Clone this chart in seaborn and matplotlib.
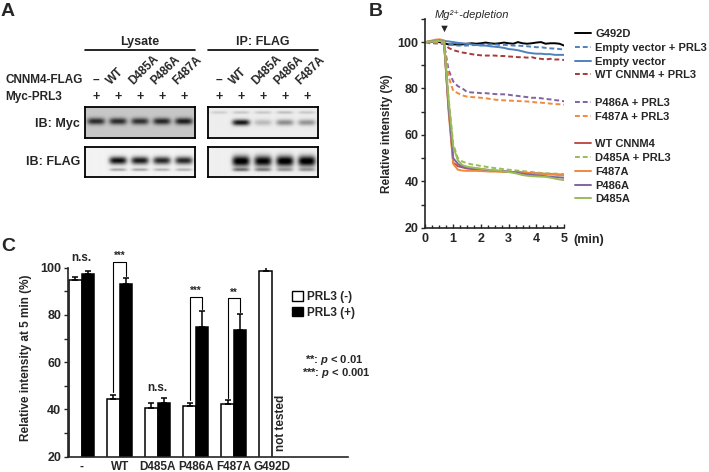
import numpy as np
import pandas as pd
import matplotlib.pyplot as plt
import seaborn as sns
from matplotlib.lines import Line2D
from matplotlib.patches import Patch

W, H = 709, 472

# ---- panel A: lanes and band strengths read off the blots (0 = no band)
lanes = ['–', 'WT', 'D485A', 'P486A', 'F487A']
myc_lysate = [0.62, 0.62, 0.60, 0.64, 0.68]
myc_ip = [0.0, 0.85, 0.20, 0.38, 0.35]
myc_ip_top = [0.12, 0.15, 0.15, 0.18, 0.15]
flag_lysate = [0.0, 0.90, 0.85, 0.80, 0.80]
flag_lysate_low = [0.0, 0.30, 0.30, 0.25, 0.25]
flag_ip = [0.0, 1.0, 0.95, 1.0, 1.0]
flag_ip_low = [0.0, 0.45, 0.40, 0.30, 0.30]

# ---- panel B: relative intensity (%) every 10 s
minutes = [round(i / 6, 3) for i in range(31)]
g492d = [100, 100, 100.5, 100, 99.5, 99, 99, 99, 99, 99.3, 99.5, 99.3, 99.5, 99.8, 99.5, 99.3,
         99.5, 99.8, 99.5, 99.3, 100, 99.5, 99.3, 99.5, 99.8, 100, 99.3, 99.5, 99.5, 99.3, 98.5]
ev_prl3 = [100, 99.5, 99.5, 99.5, 99.3, 99, 98.8, 98.5, 98.5, 98.5, 98.7, 98.7, 98.8, 99, 99, 99,
           98.8, 98.8, 98.7, 98.5, 98.5, 98.3, 98.2, 98, 97.8, 97.8, 97.5, 97.3, 97.2, 97, 96.8]
ev = [100, 100.3, 100.5, 100.5, 100.5, 100.3, 100, 99.7, 99.5, 99.3, 99, 98.8, 98.5, 98.5, 98.2, 98,
      97.8, 97.5, 97, 96.8, 96.5, 96, 95.5, 95.2, 95, 95, 94.8, 94.8, 94.5, 94.5, 94.5]
wt_prl3 = [100, 100, 99.5, 99.5, 99.3, 97.5, 96.5, 96, 95.5, 95.2, 94.8, 94.5, 94.3, 94.2, 94.2, 94.2,
           94, 94, 93.8, 93.7, 93.5, 93.5, 93.3, 93.5, 93, 92.8, 92.5, 92.8, 92.5, 92.5, 92.3]
p486a_prl3 = [100, 100, 99.8, 99.8, 99.5, 88, 83, 81, 80, 78.5, 78.3, 78.2, 78, 78, 77.8, 77.6,
              77.5, 77.5, 77.3, 77, 76.8, 76.5, 76.3, 76, 76, 75.8, 75.5, 75.3, 75, 74.8, 74.5]
f487a_prl3 = [100, 100, 99.8, 99.8, 99.5, 85, 79, 78, 77, 76.5, 76.3, 76.2, 76, 75.8, 75.5, 75.2,
              75, 74.9, 74.8, 74.7, 74.6, 74.5, 74.4, 74.2, 74, 73.9, 73.7, 73.5, 73.3, 73.2, 73]
wt = [100, 100.3, 100.5, 100.5, 100, 72, 48, 46.5, 46, 45.5, 45.3, 45, 45, 44.8, 44.7, 44.5,
      44.5, 44.3, 44.2, 44, 44, 43.8, 43.7, 43.5, 43.4, 43.3, 43.2, 43.1, 43, 42.9, 42.8]
d485a_prl3 = [100, 100, 100.3, 100.3, 100, 76, 56, 50, 48.5, 47.8, 47.3, 47, 46.6, 46.3, 46, 45.7,
              45.5, 45.2, 45, 44.8, 44.6, 44.4, 44.2, 44, 43.8, 43.6, 43.5, 43.4, 43.3, 43.2, 43.1]
f487a = [100, 100.5, 101, 101.2, 100.8, 70, 47.5, 45, 44.6, 44.5, 44.5, 44.5, 44.4, 44.3, 44.2, 44.2,
         44.1, 44, 44, 43.9, 43.8, 43.7, 43.6, 43.5, 43.4, 43.3, 43.2, 43, 42.9, 42.7, 42.5]
p486a = [100, 100.2, 100.5, 100.7, 100.3, 72, 50, 47.5, 46.3, 45.8, 45.6, 45.5, 45.3, 45, 44.8, 44.6,
         44.5, 44.3, 44.1, 43.9, 43.6, 43.3, 43, 42.8, 42.6, 42.4, 42.2, 42, 41.8, 41.7, 41.5]
d485a = [100, 100.2, 100.4, 100.5, 100.2, 75, 55, 49, 47, 46.3, 46, 45.7, 45.4, 45.1, 44.9, 44.7,
         44.5, 44.2, 44, 43.7, 43.2, 42.7, 42.4, 42.2, 42.1, 42, 41.9, 41.6, 41.2, 40.8, 40.5]

# label, values, colour, dashed
series = [
    ('G492D', g492d, '#000000', False),
    ('Empty vector + PRL3', ev_prl3, '#4F81BD', True),
    ('Empty vector', ev, '#4F81BD', False),
    ('WT CNNM4 + PRL3', wt_prl3, '#A83A3A', True),
    ('P486A + PRL3', p486a_prl3, '#8064A2', True),
    ('F487A + PRL3', f487a_prl3, '#F08A3C', True),
    ('WT CNNM4', wt, '#C0504D', False),
    ('D485A + PRL3', d485a_prl3, '#9BBB59', True),
    ('F487A', f487a, '#F08A3C', False),
    ('P486A', p486a, '#8064A2', False),
    ('D485A', d485a, '#9BBB59', False),
]

# ---- panel C: intensity at 5 min (mean, s.e.)
groups = ['-', 'WT', 'D485A', 'P486A', 'F487A', 'G492D']
prl3_neg = [94.8, 44.5, 40.5, 41.6, 42.2, 98.7]
prl3_neg_err = [1.1, 1.7, 2.2, 1.3, 1.7, 1.8]
prl3_pos = [97.4, 92.9, 42.6, 74.8, 73.6, None]
prl3_pos_err = [1.1, 2.6, 2.2, 6.8, 6.7, None]


def px(x, y):
    return x / W, 1 - y / H


def blot_image(main, main_y, main_sy, extra=None, extra_y=0.75, extra_sy=0.05, bg=0.93):
    xs = np.linspace(-0.5, 4.5, 250)
    ys = np.linspace(0, 1, 60)
    X, Y = np.meshgrid(xs, ys)
    img = np.full(X.shape, bg)
    for i, a in enumerate(main):
        img -= a * np.exp(-(np.abs(X - i) / 0.4) ** 4) * np.exp(-((Y - main_y) / main_sy) ** 2)
    if extra is not None:
        for i, a in enumerate(extra):
            img -= a * np.exp(-(np.abs(X - i) / 0.38) ** 4) * np.exp(-((Y - extra_y) / extra_sy) ** 2)
    return np.clip(img, 0, 1)


def draw_blot(box, img):
    ax = fig.add_axes(box)
    ax.imshow(img, cmap='gray', vmin=0, vmax=1, aspect='auto', extent=(-0.5, 4.5, 1, 0))
    ax.set_xticks([])
    ax.set_yticks([])
    for s in ax.spines.values():
        s.set_visible(True)
        s.set_linewidth(1.3)
        s.set_color('black')
    return ax


sns.set_theme(style='ticks')
plt.rcParams['font.family'] = ['Liberation Sans', 'DejaVu Sans']
plt.rcParams['font.weight'] = 'bold'
plt.rcParams['axes.labelweight'] = 'bold'
plt.rcParams['mathtext.fontset'] = 'custom'
plt.rcParams['mathtext.it'] = 'Liberation Sans:italic:bold'
plt.rcParams['mathtext.rm'] = 'Liberation Sans:bold'

fig = plt.figure(figsize=(W / 100, H / 100), dpi=100)

# ================= panel A =================
fig.text(*px(1, 3), 'A', fontsize=14, fontweight='bold', va='top', ha='left')
blot_w, lane_w = 110, 22
for left, title in [(85, 'Lysate'), (208, 'IP: FLAG')]:
    fig.text(*px(left + blot_w / 2, 42), title, fontsize=9, ha='center', va='center')
    fig.add_artist(Line2D([left / W, (left + blot_w) / W], [1 - 50 / H] * 2,
                          transform=fig.transFigure, color='black', lw=1.2))
    for i, name in enumerate(lanes):
        cx = left + (i + 0.5) * lane_w
        fig.text(*px(cx, 97), '+', fontsize=9, ha='center', va='center')
        if i == 0:
            fig.text(*px(cx, 80), name, fontsize=8.5, ha='center', va='center')
        else:
            fig.text(*px(cx - 5, 87), name, fontsize=8.5, rotation=45,
                     rotation_mode='anchor', ha='left', va='bottom')
fig.text(*px(5, 80), 'CNNM4-FLAG', fontsize=8.5, ha='left', va='center')
fig.text(*px(5, 97), 'Myc-PRL3', fontsize=8.5, ha='left', va='center')
fig.text(*px(80, 124), 'IB: Myc', fontsize=9, ha='right', va='center')
fig.text(*px(80, 162), 'IB: FLAG', fontsize=9, ha='right', va='center')

myc_h, flag_h = 31, 30
draw_blot([85 / W, 1 - 138 / H, blot_w / W, myc_h / H],
          blot_image(myc_lysate, 0.46, 0.11, bg=0.78))
draw_blot([208 / W, 1 - 138 / H, blot_w / W, myc_h / H],
          blot_image(myc_ip, 0.5, 0.1, myc_ip_top, 0.17, 0.05, bg=0.93))
draw_blot([85 / W, 1 - 177 / H, blot_w / W, flag_h / H],
          blot_image(flag_lysate, 0.45, 0.13, flag_lysate_low, 0.76, 0.05, bg=0.95))
draw_blot([208 / W, 1 - 177 / H, blot_w / W, flag_h / H],
          blot_image(flag_ip, 0.47, 0.18, flag_ip_low, 0.76, 0.06, bg=0.94))

# ================= panel B =================
fig.text(*px(369, 3), 'B', fontsize=14, fontweight='bold', va='top', ha='left')
axb = fig.add_axes([425.5 / W, 1 - 227.7 / H, 138.6 / W, 208.8 / H])
long = pd.DataFrame({
    'min': np.tile(minutes, len(series)),
    'value': np.concatenate([s[1] for s in series]),
    'series': np.repeat([s[0] for s in series], len(minutes)),
})
names = [s[0] for s in series]
palette = {s[0]: s[2] for s in series}
dashes = {s[0]: (2.5, 1.5) if s[3] else '' for s in series}
sns.lineplot(data=long, x='min', y='value', hue='series', style='series',
             hue_order=names, style_order=names, palette=palette, dashes=dashes,
             lw=1.4, legend=False, ax=axb)
axb.set_xlim(0, 5)
axb.set_ylim(20, 110)
axb.set_xticks(range(6))
axb.set_xticks(np.arange(0, 5.01, 0.25), minor=True)
axb.set_yticks([20, 40, 60, 80, 100])
axb.set_yticks([30, 50, 70, 90, 110], minor=True)
axb.tick_params(axis='x', which='both', direction='in', labelsize=9, width=1)
axb.tick_params(axis='x', which='major', length=3, pad=4)
axb.tick_params(axis='x', which='minor', length=2)
axb.tick_params(axis='y', which='both', direction='out', labelsize=9, width=1, pad=2)
axb.tick_params(axis='y', which='major', length=3)
axb.tick_params(axis='y', which='minor', length=3)
sns.despine(ax=axb)
for s in axb.spines.values():
    s.set_linewidth(1.2)
axb.set_xlabel('')
axb.set_ylabel('Relative intensity (%)', fontsize=8.5)
axb.yaxis.set_label_coords(-0.234, 0.45)
fig.text(*px(573, 240), '(min)', fontsize=9, ha='left', va='center')
axb.text(0.69, 105.5, '▼', fontsize=8, ha='center', va='center', clip_on=False)
fig.text(*px(472, 15), 'Mg²⁺-depletion', fontsize=8, fontstyle='italic',
         fontweight='normal', ha='center', va='center')

handles, labels = [], []
for i, (name, _, color, dashed) in enumerate(series):
    if name in ('P486A + PRL3', 'WT CNNM4'):
        handles.append(Line2D([], [], color='none'))
        labels.append(' ')
    h = Line2D([], [], color=color, lw=1.4)
    if dashed:
        h.set_dashes((2.5, 1.5))
    handles.append(h)
    labels.append(name)
fig.legend(handles, labels, loc='upper left', bbox_to_anchor=px(575, 29),
           frameon=False, fontsize=8, handlelength=1.4, handletextpad=0.4,
           labelspacing=0.34, borderpad=0, borderaxespad=0)

# ================= panel C =================
fig.text(*px(1, 238), 'C', fontsize=14, fontweight='bold', va='top', ha='left')
axc = fig.add_axes([68.3 / W, 1 - 456.7 / H, 279.8 / W, 189 / H])
bars = pd.DataFrame({
    'group': groups * 2,
    'prl3': ['PRL3 (-)'] * len(groups) + ['PRL3 (+)'] * len(groups),
    'value': prl3_neg + prl3_pos,
}).dropna()
sns.barplot(data=bars, x='group', y='value', hue='prl3', order=groups,
            hue_order=['PRL3 (-)', 'PRL3 (+)'],
            palette={'PRL3 (-)': 'white', 'PRL3 (+)': 'black'},
            width=0.66, saturation=1, edgecolor='black', linewidth=1.1,
            errorbar=None, legend=False, ax=axc)
neg_bars, pos_bars = list(axc.containers[0]), list(axc.containers[1])
for bar_list, vals, errs in [(neg_bars, prl3_neg, prl3_neg_err),
                             (pos_bars, prl3_pos, prl3_pos_err)]:
    pairs = [(v, e) for v, e in zip(vals, errs) if v is not None]
    for b, (v, e) in zip(bar_list, pairs):
        xc = b.get_x() + b.get_width() / 2
        axc.errorbar(xc, v, yerr=[[0], [e]], color='black', lw=1.1, capsize=2, capthick=1.1)


def bracket(i, level, label):
    xl = neg_bars[i].get_x() + neg_bars[i].get_width() / 2
    xr = pos_bars[i].get_x() + pos_bars[i].get_width() / 2
    yl = prl3_neg[i] + prl3_neg_err[i] + 1
    yr = prl3_pos[i] + prl3_pos_err[i] + 1
    axc.plot([xl, xl, xr, xr], [yl, level, level, yr], color='black', lw=0.8, clip_on=False)
    axc.text((xl + xr) / 2, level + 0.3, label, fontsize=7, ha='center', va='bottom')


bracket(1, 102.5, '***')
bracket(3, 87.7, '***')
bracket(4, 87.0, '**')
axc.text(0, 101.5, 'n.s.', fontsize=8.5, ha='center', va='bottom')
axc.text(2, 46.5, 'n.s.', fontsize=8.5, ha='center', va='bottom')
g = neg_bars[5]
axc.text(g.get_x() + 1.75 * g.get_width(), 22.3, 'not tested', fontsize=8.5,
         rotation=90, ha='center', va='bottom')

axc.set_xlim(-0.35, 7.0)
axc.set_ylim(20, 100)
axc.set_yticks([20, 40, 60, 80, 100])
axc.set_yticks([30, 50, 70, 90], minor=True)
axc.tick_params(axis='y', which='both', direction='out', length=3, width=1, labelsize=9, pad=2)
axc.tick_params(axis='x', length=0, labelsize=8.5, pad=3)
sns.despine(ax=axc)
for s in axc.spines.values():
    s.set_linewidth(1.2)
axc.set_xlabel('')
axc.set_ylabel('Relative intensity at 5 min (%)', fontsize=8.5)
axc.yaxis.set_label_coords(-0.131, 0.525)

fig.legend([Patch(fc='white', ec='black', lw=1), Patch(fc='black', ec='black', lw=1)],
           ['PRL3 (-)', 'PRL3 (+)'], loc='upper left', bbox_to_anchor=px(292, 291),
           frameon=False, fontsize=8.5, handlelength=0.9, handleheight=0.9,
           handletextpad=0.4, labelspacing=0.3, borderpad=0, borderaxespad=0)
fig.text(*px(305, 360), '**: $p$ < 0.01', fontsize=8, ha='left', va='center')
fig.text(*px(302, 373), '***: $p$ < 0.001', fontsize=8, ha='left', va='center')

fig.savefig('out.png', dpi=100)
